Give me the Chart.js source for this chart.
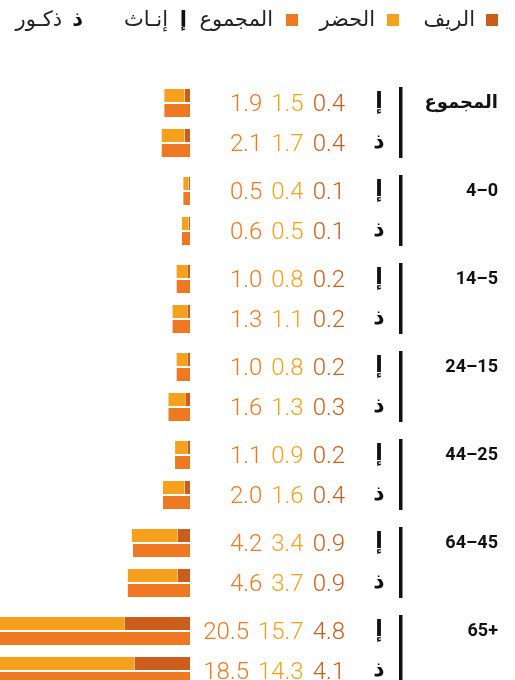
<!DOCTYPE html>
<html lang="ar">
<head>
<meta charset="utf-8">
<script src="https://cdn.jsdelivr.net/npm/chart.js@4"></script>
<style>
  html, body { margin: 0; padding: 0; background: #fff; }
  canvas { display: block; }
</style>
</head>
<body>
<canvas id="chart" width="515" height="680"></canvas>
<script>
const groups = ['المجموع', '0–4', '5–14', '15–24', '25–44', '45–64', '+65'];
const sexLabels = ['إ', 'ذ'];

const femaleTotal = [1.9, 0.5, 1.0, 1.0, 1.1, 4.2, 20.5];
const femaleUrban = [1.5, 0.4, 0.8, 0.8, 0.9, 3.4, 15.7];
const femaleRural = [0.4, 0.1, 0.2, 0.2, 0.2, 0.9, 4.8];
const maleTotal = [2.1, 0.6, 1.3, 1.6, 2.0, 4.6, 18.5];
const maleUrban = [1.7, 0.5, 1.1, 1.3, 1.6, 3.7, 14.3];
const maleRural = [0.4, 0.1, 0.2, 0.3, 0.4, 0.9, 4.1];

const colors = { rural: '#CB5E1C', urban: '#F6A11D', total: '#EE7922' };

// each group gets a female row then a male row; groups are a bit further apart than rows
const rowPos = (g, s) => g * 11 + s * 5;
const rows = [];
groups.forEach((name, g) => {
  rows.push({ g, s: 0, total: femaleTotal[g], urban: femaleUrban[g], rural: femaleRural[g] });
  rows.push({ g, s: 1, total: maleTotal[g], urban: maleUrban[g], rural: maleRural[g] });
});

const barStyle = {
  borderColor: '#fff',
  borderWidth: { top: 1, bottom: 1, left: 0, right: 0 },
  borderSkipped: false,
  barThickness: 15,
  inflateAmount: 0
};

const labelsPlugin = {
  id: 'labels',
  afterDraw(chart) {
    const ctx = chart.ctx;
    const y = chart.scales.y;
    ctx.save();

    // legend (drawn by hand, right to left)
    ctx.direction = 'rtl';
    ctx.textAlign = 'right';
    ctx.textBaseline = 'middle';
    const legend = [
      { box: colors.rural, bx: 486, text: 'الريف', tx: 475 },
      { box: colors.urban, bx: 387, text: 'الحضر', tx: 375 },
      { box: colors.total, bx: 286, text: 'المجموع', tx: 273 }
    ];
    legend.forEach(item => {
      ctx.fillStyle = item.box;
      ctx.fillRect(item.bx, 14, 12, 12);
      ctx.fillStyle = '#222';
      ctx.font = '21px "DejaVu Sans"';
      ctx.fillText(item.text, item.tx, 21);
    });
    [['إ', 187, 'إنـاث', 168], ['ذ', 83, 'ذكـور', 62]].forEach(([k, kx, t, tx]) => {
      ctx.fillStyle = '#111';
      ctx.font = 'bold 21px "DejaVu Sans"';
      ctx.fillText(k, kx, 21);
      ctx.fillStyle = '#222';
      ctx.font = '21px "DejaVu Sans"';
      ctx.fillText(t, tx, 21);
    });

    rows.forEach(r => {
      const cy = y.getPixelForValue(rowPos(r.g, r.s)) - 1;

      // values: rural, urban, total from right to left
      ctx.direction = 'ltr';
      ctx.textAlign = 'right';
      ctx.textBaseline = 'alphabetic';
      ctx.font = '300 24px Roboto';
      let tx = 345;
      [[r.rural, colors.rural], [r.urban, colors.urban], [r.total, colors.total]].forEach(([v, c]) => {
        const s = v.toFixed(1);
        ctx.fillStyle = c;
        ctx.fillText(s, tx, cy + 8.5);
        tx -= ctx.measureText(s).width + 9;
      });

      // sex letter
      ctx.direction = 'rtl';
      ctx.textAlign = 'center';
      ctx.textBaseline = 'middle';
      ctx.fillStyle = '#111';
      ctx.font = 'bold 22px "DejaVu Sans"';
      ctx.fillText(sexLabels[r.s], 379, cy);
    });

    groups.forEach((name, g) => {
      const top = y.getPixelForValue(rowPos(g, 0)) - 1;
      const bottom = y.getPixelForValue(rowPos(g, 1)) - 1;
      ctx.fillStyle = '#111';
      ctx.fillRect(399, top - 15, 3.5, bottom - top + 31);
      ctx.direction = 'rtl';
      ctx.textAlign = 'right';
      ctx.textBaseline = 'middle';
      ctx.font = 'bold 18px Roboto, "DejaVu Sans"';
      ctx.fillText(name, 498, top + 1);
    });
    ctx.restore();
  }
};

new Chart(document.getElementById('chart'), {
  type: 'bar',
  data: {
    datasets: [
      { label: 'الريف', data: rows.map(r => ({ x: r.rural, y: rowPos(r.g, r.s) })), backgroundColor: colors.rural, stack: 'parts', ...barStyle },
      { label: 'الحضر', data: rows.map(r => ({ x: r.urban, y: rowPos(r.g, r.s) })), backgroundColor: colors.urban, stack: 'parts', ...barStyle },
      { label: 'المجموع', data: rows.map(r => ({ x: r.total, y: rowPos(r.g, r.s) })), backgroundColor: colors.total, stack: 'total', ...barStyle }
    ]
  },
  options: {
    indexAxis: 'y',
    responsive: false,
    animation: false,
    layout: { padding: { top: 71, right: 325, bottom: 0, left: 0 } },
    scales: {
      x: { display: false, reverse: true, min: 0, max: 14, stacked: true },
      y: { type: 'linear', display: false, reverse: true, offset: false, min: -4, max: 72.125 }
    },
    plugins: { legend: { display: false }, tooltip: { enabled: false } }
  },
  plugins: [labelsPlugin]
});
</script>
</body>
</html>
